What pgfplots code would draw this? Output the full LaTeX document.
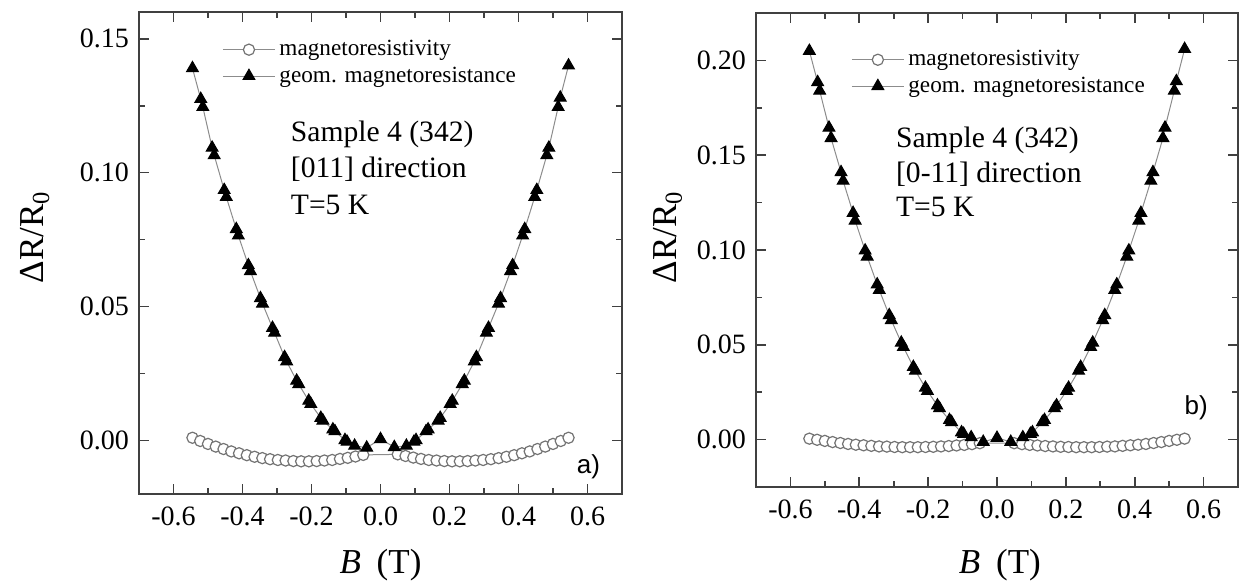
\documentclass[border=0pt]{standalone}
\usepackage{fontspec}
\setmainfont{Liberation Serif}
\newfontfamily\arialfont{Liberation Sans}
\usepackage{pgfplots}
\pgfplotsset{compat=1.18}

\pgfplotsset{
  mrpanel/.style={
    scale only axis,
    xmin=-0.7, xmax=0.7,
    xtick={-0.6,-0.4,-0.2,0,0.2,0.4,0.6},
    xticklabels={-0.6,-0.4,-0.2,0.0,0.2,0.4,0.6},
    minor x tick num=1, minor y tick num=1,
    tick pos=both, tick align=inside,
    major tick length=5pt, minor tick length=3pt,
    axis line style={line width=1pt, black!75},
    every tick/.style={line width=0.8pt, black!75},
    tick label style={font=\fontsize{14}{16}\selectfont},
    yticklabel style={xshift=-1.5pt},
    xticklabel style={yshift=-3pt},
    xlabel={\textit{B}\hspace{0.45em}(T)},
    ylabel={ΔR/R\textsubscript{0}},
    label style={font=\fontsize{17.5}{20}\selectfont},
    xlabel style={anchor=center},
    ylabel style={anchor=center},
    legend cell align=left,
    legend style={draw=none, fill=none, anchor=north west, inner sep=0pt,
      font=\fontsize{11.6}{13}\selectfont},
    legend image code/.code={\draw[mark repeat=2,mark phase=2,##1] plot coordinates {(0pt,0pt) (13pt,0pt) (26pt,0pt)};},
  },
  mrline/.style={color=black!45, line width=0.5pt, mark=*, mark size=2.8pt,
    mark options={fill=white, draw=black!55, line width=0.6pt}},
  gmline/.style={color=black!45, line width=0.5pt, mark=triangle*, mark size=3.4pt,
    mark options={fill=black, draw=black}},
}

\begin{document}
\begin{tikzpicture}
\path[use as bounding box] (-69.5pt,-46.5pt) rectangle (551pt,247pt);

% panel a): [011] direction
\begin{axis}[mrpanel, at={(0pt,0pt)}, anchor=south west,
  width=241.5pt, height=241pt,
  ymin=-0.02, ymax=0.16,
  ytick={0,0.05,0.10,0.15}, yticklabels={0.00,0.05,0.10,0.15},
  ylabel style={at={(axis description cs:-0.215,0.533)}},
  xlabel style={at={(axis description cs:0.5,-0.147)}},
  legend style={at={(axis description cs:0.172,0.95)}}]
\addplot[mrline] table {
-0.545 0.0010
-0.5225 -0.0002
-0.5 -0.0013
-0.4775 -0.0023
-0.455 -0.0032
-0.4325 -0.0041
-0.41 -0.0048
-0.3875 -0.0055
-0.365 -0.0061
-0.3425 -0.0066
-0.32 -0.0070
-0.2975 -0.0073
-0.275 -0.0075
-0.2525 -0.0077
-0.23 -0.0078
-0.2075 -0.0078
-0.185 -0.0077
-0.1625 -0.0075
-0.14 -0.0073
-0.1175 -0.0069
-0.095 -0.0065
-0.0725 -0.0060
-0.05 -0.0054
0.05 -0.0052
0.0725 -0.0058
0.095 -0.0064
0.1175 -0.0069
0.14 -0.0073
0.1625 -0.0075
0.185 -0.0077
0.2075 -0.0078
0.23 -0.0078
0.2525 -0.0077
0.275 -0.0075
0.2975 -0.0073
0.32 -0.0070
0.3425 -0.0066
0.365 -0.0061
0.3875 -0.0055
0.41 -0.0048
0.4325 -0.0041
0.455 -0.0032
0.4775 -0.0023
0.5 -0.0013
0.5225 -0.0002
0.545 0.0010
};
\addlegendentry{magnetoresistivity}
\addplot[gmline] table {
-0.545 0.139
-0.521 0.1275
-0.515 0.1245
-0.488 0.1093
-0.482 0.1065
-0.453 0.0935
-0.447 0.0909
-0.418 0.0789
-0.412 0.0765
-0.383 0.0654
-0.377 0.0632
-0.348 0.0531
-0.342 0.0511
-0.313 0.0420
-0.307 0.0402
-0.278 0.0311
-0.272 0.0295
-0.243 0.0223
-0.237 0.0210
-0.208 0.0148
-0.202 0.0136
-0.173 0.0084
-0.167 0.0074
-0.138 0.0041
-0.132 0.0034
-0.103 0.0001
-0.097 -0.0005
-0.075 -0.0020
-0.04 -0.0027
0 0.0005
0.04 -0.0025
0.075 -0.0020
0.097 -0.0005
0.103 0.0001
0.132 0.0034
0.138 0.0041
0.167 0.0074
0.173 0.0084
0.202 0.0136
0.208 0.0148
0.237 0.0210
0.243 0.0223
0.272 0.0295
0.278 0.0311
0.307 0.0402
0.313 0.0420
0.342 0.0511
0.348 0.0531
0.377 0.0632
0.383 0.0654
0.412 0.0765
0.418 0.0789
0.447 0.0909
0.453 0.0935
0.482 0.1065
0.488 0.1093
0.515 0.1245
0.521 0.1280
0.545 0.140
};
\addlegendentry{geom. magnetoresistance}
\node[anchor=base west, font=\fontsize{14.8}{17}\selectfont] at (axis description cs:0.300,0.732) {Sample 4 (342)};
\node[anchor=base west, font=\fontsize{14.8}{17}\selectfont] at (axis description cs:0.300,0.656) {[011] direction};
\node[anchor=base west, font=\fontsize{14.8}{17}\selectfont] at (axis description cs:0.300,0.579) {T=5 K};
\node[anchor=east, font=\arialfont\fontsize{13}{15}\selectfont] at (axis description cs:0.969,0.056) {a)};
\end{axis}

% panel b): [0-11] direction
\begin{axis}[mrpanel, at={(308.5pt,3.5pt)}, anchor=south west,
  width=241pt, height=237pt,
  ymin=-0.025, ymax=0.225,
  ytick={0,0.05,0.10,0.15,0.20}, yticklabels={0.00,0.05,0.10,0.15,0.20},
  ylabel style={at={(axis description cs:-0.183,0.527)}},
  xlabel style={at={(axis description cs:0.506,-0.165)}},
  legend style={at={(axis description cs:0.197,0.93)}}]
\addplot[mrline] table {
-0.545 0.0005
-0.5225 -0.0001
-0.5 -0.0007
-0.4775 -0.0013
-0.455 -0.0018
-0.4325 -0.0023
-0.41 -0.0027
-0.3875 -0.0030
-0.365 -0.0033
-0.3425 -0.0036
-0.32 -0.0037
-0.2975 -0.0039
-0.275 -0.0040
-0.2525 -0.0040
-0.23 -0.0040
-0.2075 -0.0039
-0.185 -0.0038
-0.1625 -0.0036
-0.14 -0.0034
-0.1175 -0.0031
-0.095 -0.0028
-0.0725 -0.0024
-0.05 -0.0019
0.05 -0.0019
0.0725 -0.0024
0.095 -0.0028
0.1175 -0.0031
0.14 -0.0034
0.1625 -0.0036
0.185 -0.0038
0.2075 -0.0039
0.23 -0.0040
0.2525 -0.0040
0.275 -0.0040
0.2975 -0.0039
0.32 -0.0037
0.3425 -0.0036
0.365 -0.0033
0.3875 -0.0030
0.41 -0.0027
0.4325 -0.0023
0.455 -0.0018
0.4775 -0.0013
0.5 -0.0007
0.5225 -0.0001
0.545 0.0005
};
\addlegendentry{magnetoresistivity}
\addplot[gmline] table {
-0.545 0.205
-0.521 0.1885
-0.515 0.1840
-0.488 0.1645
-0.482 0.1590
-0.453 0.1410
-0.447 0.1365
-0.418 0.1195
-0.412 0.1155
-0.383 0.0997
-0.377 0.0965
-0.348 0.0818
-0.342 0.0789
-0.313 0.0656
-0.307 0.0630
-0.278 0.0511
-0.272 0.0488
-0.243 0.0383
-0.237 0.0363
-0.208 0.0273
-0.202 0.0256
-0.173 0.0180
-0.167 0.0165
-0.138 0.0103
-0.132 0.0092
-0.103 0.0038
-0.097 0.0030
-0.075 0.0012
-0.04 -0.0012
0 0.0009
0.04 -0.0012
0.075 0.0012
0.097 0.0030
0.103 0.0038
0.132 0.0092
0.138 0.0103
0.167 0.0165
0.173 0.0180
0.202 0.0256
0.208 0.0273
0.237 0.0363
0.243 0.0383
0.272 0.0488
0.278 0.0511
0.307 0.0630
0.313 0.0656
0.342 0.0789
0.348 0.0818
0.377 0.0965
0.383 0.0997
0.412 0.1155
0.418 0.1195
0.447 0.1365
0.453 0.1410
0.482 0.1590
0.488 0.1645
0.515 0.1840
0.521 0.1890
0.545 0.206
};
\addlegendentry{geom. magnetoresistance}
\node[anchor=base west, font=\fontsize{14.8}{17}\selectfont] at (axis description cs:0.276,0.717) {Sample 4 (342)};
\node[anchor=base west, font=\fontsize{14.8}{17}\selectfont] at (axis description cs:0.276,0.643) {[0-11] direction};
\node[anchor=base west, font=\fontsize{14.8}{17}\selectfont] at (axis description cs:0.276,0.570) {T=5 K};
\node[anchor=east, font=\arialfont\fontsize{13}{15}\selectfont] at (axis description cs:0.952,0.167) {b)};
\end{axis}
\end{tikzpicture}
\end{document}
